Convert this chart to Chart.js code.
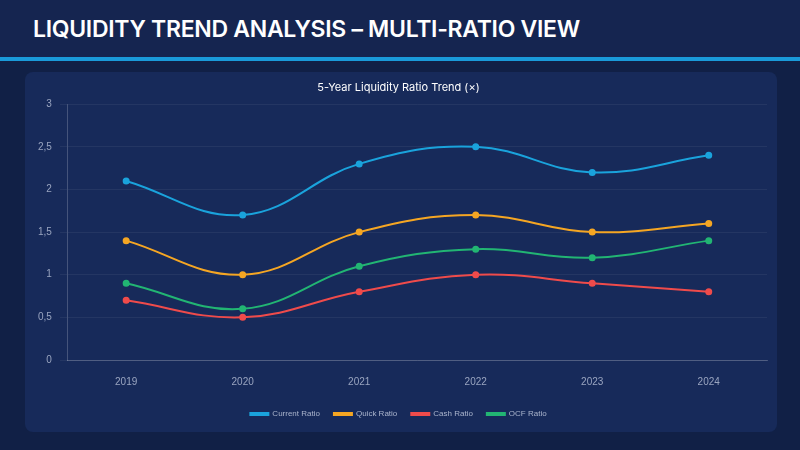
<!DOCTYPE html>
<html><head><meta charset="utf-8">
<script src="https://cdn.jsdelivr.net/npm/chart.js@4"></script>
<style>
html,body{margin:0;padding:0;width:800px;height:450px;background:#152550;overflow:hidden;font-family:Inter,"Noto Sans",sans-serif;}
#title{position:absolute;left:33px;top:15px;color:#fff;font-size:23px;font-weight:600;letter-spacing:-0.3px;}
#bar{position:absolute;left:0;top:57px;width:800px;height:4px;background:#1a9ad9;}
#under{position:absolute;left:0;top:61px;width:800px;height:389px;background:#112046;}
#card{position:absolute;left:25px;top:72px;width:752px;height:360px;background:#172a5a;border-radius:8px;}
#cw{position:absolute;left:25px;top:72px;width:752px;height:360px;}
</style></head><body>
<div id="title">LIQUIDITY TREND ANALYSIS – MULTI-RATIO VIEW</div>
<div id="bar"></div><div id="under"></div><div id="card"></div>
<div id="cw"><canvas id="c"></canvas></div>
<script>
const years=['2019','2020','2021','2022','2023','2024'];
const currentRatio=[2.1,1.7,2.3,2.5,2.2,2.4];
const quickRatio=[1.4,1.0,1.5,1.7,1.5,1.6];
const cashRatio=[0.7,0.5,0.8,1.0,0.9,0.8];
const ocfRatio=[0.9,0.6,1.1,1.3,1.2,1.4];
const ds=(l,d,c)=>({label:l,data:d,borderColor:c,backgroundColor:c,borderWidth:2,pointRadius:2.5,tension:0.4,fill:false});
new Chart(document.getElementById('c'),{type:'line',
data:{labels:years,datasets:[ds('Current Ratio',currentRatio,'#1aa3dc'),ds('Quick Ratio',quickRatio,'#f5a623'),ds('Cash Ratio',cashRatio,'#ef4b4b'),ds('OCF Ratio',ocfRatio,'#22b573')]},
options:{responsive:true,maintainAspectRatio:false,animation:false,
layout:{padding:{left:5,right:10,top:2,bottom:4}},
plugins:{title:{display:true,text:'5-Year Liquidity Ratio Trend (×)',color:'#ffffff',font:{size:11,family:'Inter',weight:'normal'},padding:{top:7,bottom:10}},
legend:{position:'bottom',labels:{color:'#aab4cc',boxWidth:18,boxHeight:2,font:{size:8},padding:14}}},
scales:{x:{offset:true,grid:{display:false},border:{color:'rgba(255,255,255,0.2)'},ticks:{color:'#9aa5c0',font:{size:10},padding:8}},
y:{min:0,max:3,grid:{color:'rgba(255,255,255,0.06)'},border:{color:'rgba(255,255,255,0.2)'},ticks:{stepSize:0.5,color:'#9aa5c0',font:{size:10},padding:8,callback:v=>String(v).replace('.',',')}}}}});
</script></body></html>
